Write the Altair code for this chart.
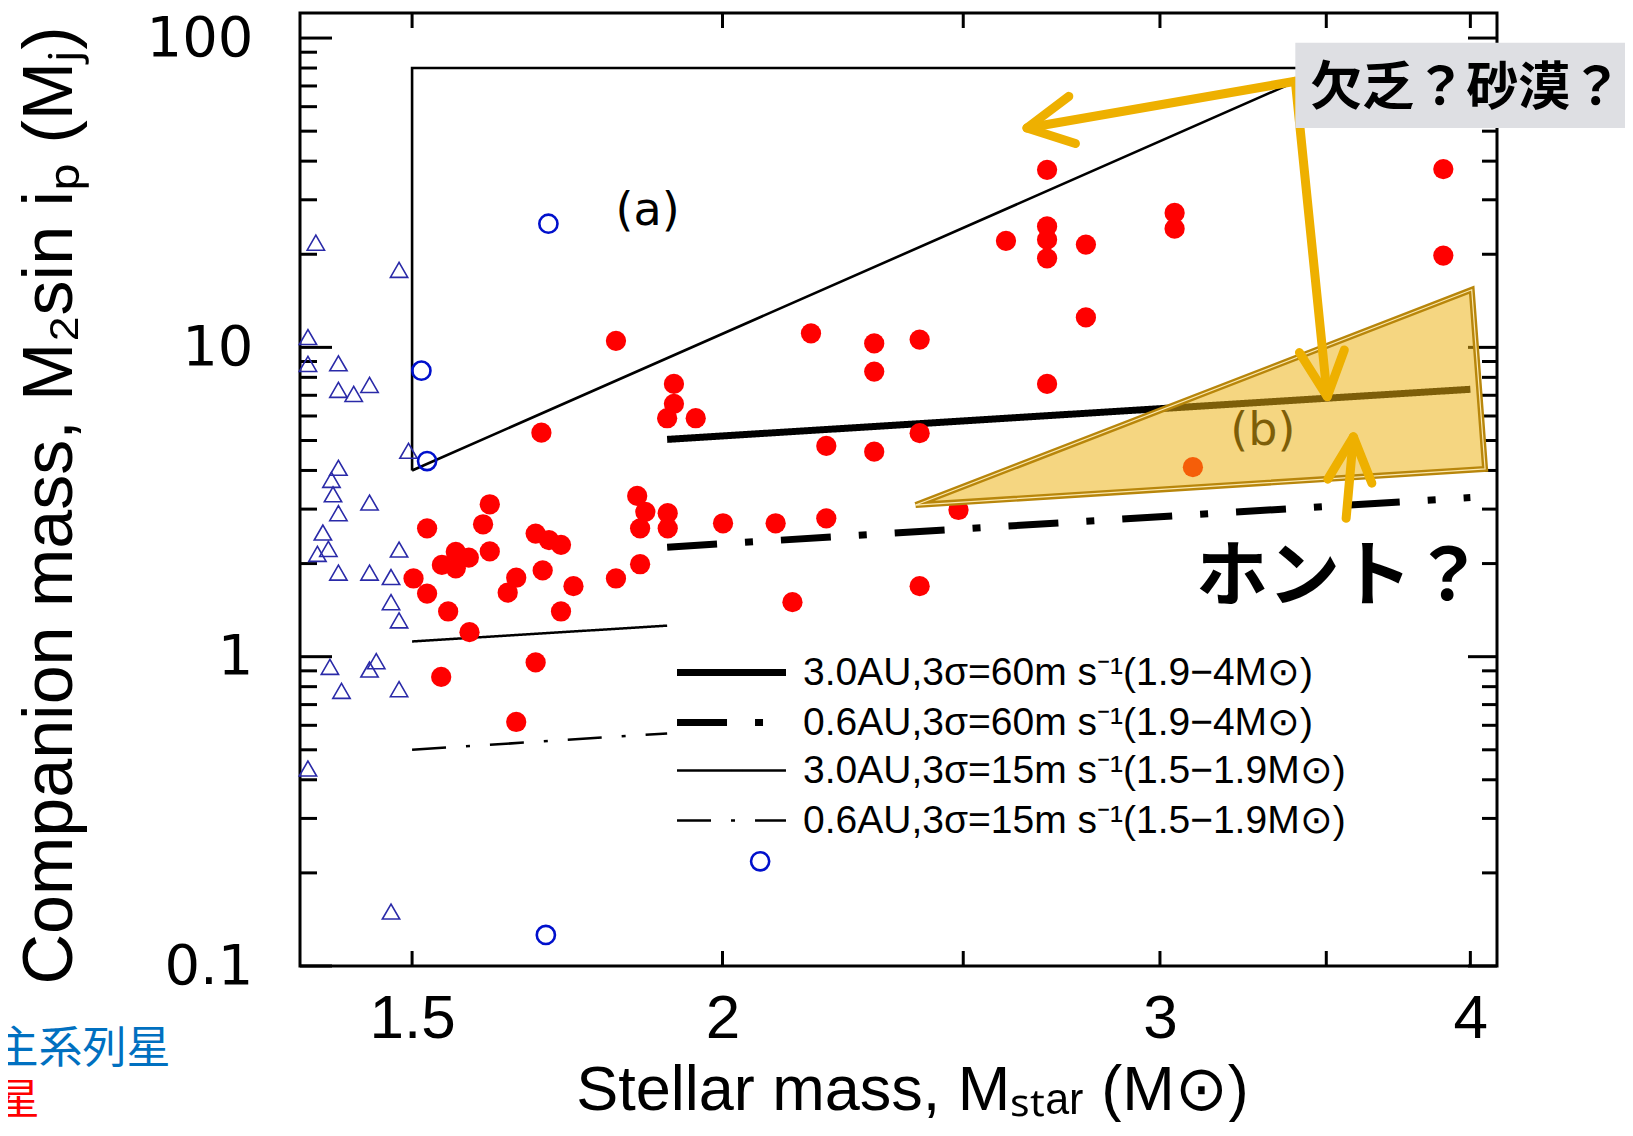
import altair as alt
import pandas as pd

# ---------------- data ----------------
# red filled circles (giants)
giant_mass = [1.691, 1.912, 1.912, 1.900, 1.951, 1.812,
              1.521, 1.612, 1.602, 1.612, 1.562, 1.581, 1.542, 1.562, 1.502, 1.521,
              1.551, 1.582, 1.541, 1.682, 1.652, 1.682, 1.703, 1.722, 1.693, 1.652,
              1.639, 1.742, 1.722, 1.812, 1.853, 1.848, 1.862, 1.853, 1.901, 1.901,
              2.001, 2.101,
              2.702, 2.601, 2.702, 2.702, 2.702, 2.801, 2.801, 2.702, 2.171, 2.302,
              2.302, 2.401, 2.202, 2.302, 2.401, 2.202, 2.489, 2.134, 2.401, 3.901,
              3.901, 3.041, 3.041, 3.093]
giant_msini = [5.30, 7.62, 6.57, 5.90, 5.90, 10.5,
               2.60, 3.11, 2.68, 2.19, 2.18, 2.09, 1.98, 1.93, 1.79, 1.60,
               1.40, 1.20, 0.86, 0.958, 0.615, 2.50, 2.38, 2.30, 1.90, 1.80,
               1.61, 1.69, 1.40, 1.79, 1.99, 3.31, 2.94, 2.60, 2.91, 2.60,
               2.70, 2.70,
               37.5, 22.1, 24.6, 22.3, 19.4, 21.5, 12.5, 7.62, 11.1, 10.3,
               8.35, 10.6, 4.80, 4.60, 5.28, 2.80, 2.98, 1.50, 1.69, 37.7,
               19.8, 27.2, 24.2, 4.10]

# blue open circles
ring_mass = [1.702, 1.513, 1.521, 1.698, 2.071]
ring_msini = [25.1, 8.41, 4.29, 0.126, 0.218]

# blue open triangles
tri_mass = [1.372, 1.482, 1.362, 1.362, 1.401, 1.401, 1.421, 1.442, 1.495, 1.401,
            1.392, 1.394, 1.401, 1.442, 1.381, 1.388, 1.374, 1.482, 1.401, 1.442,
            1.471, 1.471, 1.482, 1.390, 1.442, 1.451, 1.405, 1.482, 1.362, 1.471]
tri_msini = [21.8, 17.8, 10.8, 8.84, 8.88, 7.29, 7.07, 7.56, 4.63, 4.08,
             3.73, 3.35, 2.91, 3.15, 2.52, 2.23, 2.15, 2.22, 1.87, 1.87,
             1.81, 1.50, 1.31, 0.927, 0.909, 0.967, 0.775, 0.785, 0.435, 0.150]

# detection-limit lines
line_names = ["3.0AU,3σ=60m s⁻¹(1.9−4M⊙)",
              "0.6AU,3σ=60m s⁻¹(1.9−4M⊙)",
              "3.0AU,3σ=15m s⁻¹(1.5−1.9M⊙)",
              "0.6AU,3σ=15m s⁻¹(1.5−1.9M⊙)"]
line_mass = [[1.9, 4.0], [1.9, 4.0], [1.5, 1.9], [1.5, 1.9]]
line_msini = [[5.04, 7.32], [2.26, 3.27], [1.12, 1.26], [0.50, 0.565]]

# region (a) outline
region_a_mass = [1.5, 1.5, 3.5, 1.5]
region_a_msini = [4.0, 80.0, 80.0, 4.0]

# region (b) highlighted polygon
region_b_mass = [2.392, 4.005, 4.055]
region_b_top = [3.092, 15.35, 4.045]
region_b_bottom = [3.092, 4.02, 4.045]
region_b_outline_mass = [2.392, 4.005, 4.055, 2.392]
region_b_outline_msini = [3.092, 15.35, 4.045, 3.092]

# annotation arrows (polylines)
arrow_ids = ["s1", "s1", "h1", "h1", "h1", "s2", "s2", "h2", "h2", "h2",
             "s3", "s3", "h3", "h3", "h3"]
arrow_mass = [3.401, 2.652, 2.757, 2.652, 2.774, 3.401, 3.503, 3.414, 3.503, 3.559,
              3.565, 3.589, 3.505, 3.589, 3.651]
arrow_msini = [72.5, 51.2, 64.8, 51.2, 45.6, 72.5, 6.93, 9.62, 6.93, 9.81,
               2.80, 5.14, 3.75, 5.14, 3.64]

# grey label box
box_mass = [3.401, 4.66]
box_msini = [96.5, 51.2]

# texts
label_a = ["(a)", 1.866, 27.7]
label_b = ["(b)", 3.300, 5.37]
label_box = ["欠乏？砂漠？", 3.985, 68.6]
label_honto = ["ホント？", 3.545, 1.80]
label_ms = ["主系列星", 1.199, 0.0537]
label_giant = ["星", 1.062, 0.0365]

# axis ticks
x_ticks = [1.5, 2, 2.5, 3, 3.5, 4]
y_major = [0.1, 1, 10, 100]
y_minor = [0.2, 0.3, 0.4, 0.5, 0.6, 0.7, 0.8, 0.9,
           2, 3, 4, 5, 6, 7, 8, 9,
           20, 30, 40, 50, 60, 70, 80, 90]

# ---------------- chart ----------------
W, H = 1197, 953
SANS = "Liberation Sans"

xs = alt.Scale(type="log", domain=[1.352, 4.10], nice=False)
ys = alt.Scale(type="log", domain=[0.1, 120.5], nice=False)

x_axis = alt.Axis(values=[1.5, 2, 3, 4], format="~g", grid=False, ticks=False, tickSize=0,
                  domain=False, labelFont=SANS, labelFontSize=62, labelPadding=22,
                  labelColor="black", labelFlush=False, labelOverlap=False,
                  title="Stellar mass, Mₛₜₐᵣ (M⊙)", titleFont=SANS, titleFontSize=63,
                  titleFontWeight="normal", titleColor="black", titleX=612, titleY=143,
                  titleBaseline="alphabetic", titleAlign="center")
y_axis = alt.Axis(values=[0.1, 1, 10, 100], format="~g", grid=False, ticks=False, tickSize=0,
                  domain=False, labelFont="DejaVu Sans", labelFontSize=56, labelPadding=47,
                  labelColor="black", labelFlush=False, labelOverlap=False,
                  title="Companion mass, M₂sin iₚ (Mⱼ)", titleFont=SANS,
                  titleFontSize=70, titleFontWeight="normal", titleColor="black",
                  titleX=-229, titleY=492, titleBaseline="alphabetic", titleAngle=270,
                  titleAlign="center")


def X(field="m"):
    return alt.X(f"{field}:Q", scale=xs, axis=x_axis)


def Y(field="v"):
    return alt.Y(f"{field}:Q", scale=ys, axis=y_axis)


# ticks (drawn inward)
tick_x_df = pd.DataFrame({"m": x_ticks})
tick_ymaj_df = pd.DataFrame({"v": y_major})
tick_ymin_df = pd.DataFrame({"v": y_minor})
tk = dict(color="black", strokeWidth=3)
ticks = [
    alt.Chart(tick_x_df).mark_rule(**tk).encode(x=X(), y=alt.value(0), y2=alt.value(15)),
    alt.Chart(tick_x_df).mark_rule(**tk).encode(x=X(), y=alt.value(H), y2=alt.value(H - 15)),
    alt.Chart(tick_ymaj_df).mark_rule(**tk).encode(y=Y(), x=alt.value(0), x2=alt.value(32)),
    alt.Chart(tick_ymin_df).mark_rule(**tk).encode(y=Y(), x=alt.value(0), x2=alt.value(17)),
    alt.Chart(tick_ymaj_df).mark_rule(**tk).encode(y=Y(), x=alt.value(W), x2=alt.value(W - 29)),
    alt.Chart(tick_ymin_df).mark_rule(**tk).encode(y=Y(), x=alt.value(W), x2=alt.value(W - 15)),
]

# region (a)
reg_a_df = pd.DataFrame({"m": region_a_mass, "v": region_a_msini, "o": range(4)})
reg_a = alt.Chart(reg_a_df).mark_line(color="black", strokeWidth=2.6).encode(
    x=X(), y=Y(), order="o:Q")

# detection lines with legends
rows = []
for name, ms, vs in zip(line_names, line_mass, line_msini):
    for k, (m, v) in enumerate(zip(ms, vs)):
        rows.append({"series": name, "m": m, "v": v, "o": k})
lines_df = pd.DataFrame(rows)


def make_legend(y0, sw):
    return alt.Legend(title=None, orient="none", legendX=412, legendY=y0,
                      symbolType="M-4,0L4,0", symbolSize=742, symbolStrokeColor="black",
                      symbolStrokeWidth=sw,
                      labelFont=SANS, labelFontSize=39, labelColor="black",
                      labelOffset=52, rowPadding=10, padding=0, labelLimit=1200)


thick = alt.Chart(lines_df[lines_df.series.isin(line_names[:2])]).mark_line(
    color="black", strokeWidth=7, strokeCap="butt").encode(
    x=X(), y=Y(), order="o:Q",
    strokeDash=alt.StrokeDash(
        "series:N",
        scale=alt.Scale(domain=line_names[:2], range=[[1, 0], [50, 28, 8, 28]]),
        legend=make_legend(640, 7)))
thin = alt.Chart(lines_df[lines_df.series.isin(line_names[2:])]).mark_line(
    color="black", strokeWidth=2.5, strokeCap="butt").encode(
    x=X(), y=Y(), order="o:Q",
    strokeDash=alt.StrokeDash(
        "series:N",
        scale=alt.Scale(domain=line_names[2:], range=[[1, 0], [34, 20, 4, 20]]),
        legend=make_legend(738, 2.5)))

# points
tri = alt.Chart(pd.DataFrame({"m": tri_mass, "v": tri_msini})).mark_point(
    shape="triangle-up", size=300, filled=False, color="#2a2aa8", strokeWidth=1.6,
    opacity=1).encode(x=X(), y=Y())
rings = alt.Chart(pd.DataFrame({"m": ring_mass, "v": ring_msini})).mark_point(
    shape="circle", size=330, filled=False, color="#0010cc", strokeWidth=2.6,
    opacity=1).encode(x=X(), y=Y())
giants = alt.Chart(pd.DataFrame({"m": giant_mass, "v": giant_msini})).mark_circle(
    size=410, color="#ff0000", opacity=1).encode(x=X(), y=Y())


def text_layer(lbl, **kw):
    df = pd.DataFrame({"t": [lbl[0]], "m": [lbl[1]], "v": [lbl[2]]})
    return alt.Chart(df).mark_text(**kw).encode(x=X(), y=Y(), text="t:N")


txt_a = text_layer(label_a, font="DejaVu Sans", fontSize=46, color="black",
                   align="center", baseline="middle")
txt_b = text_layer(label_b, font="DejaVu Sans", fontSize=46, color="black",
                   align="center", baseline="middle")

# region (b)
reg_b_df = pd.DataFrame({"m": region_b_mass, "v": region_b_top, "v2": region_b_bottom})
reg_b_fill = alt.Chart(reg_b_df).mark_area(color="#ecb211", opacity=0.53).encode(
    x=X(), y=Y(), y2="v2:Q")
reg_b_out_df = pd.DataFrame({"m": region_b_outline_mass, "v": region_b_outline_msini,
                             "o": range(4)})
reg_b_out = alt.Chart(reg_b_out_df).mark_line(
    color="#b8860b", strokeWidth=6, strokeJoin="miter").encode(x=X(), y=Y(), order="o:Q")
reg_b_in = alt.Chart(reg_b_out_df).mark_line(
    color="#fbe8b0", strokeWidth=1.2).encode(x=X(), y=Y(), order="o:Q")

# arrows
arr_df = pd.DataFrame({"id": arrow_ids, "m": arrow_mass, "v": arrow_msini,
                       "o": range(len(arrow_ids))})
arrows = alt.Chart(arr_df).mark_line(
    color="#eeb000", strokeWidth=9, strokeCap="round", strokeJoin="round").encode(
    x=X(), y=Y(), detail="id:N", order="o:Q")

# grey box + texts
box_df = pd.DataFrame({"m": [box_mass[0]], "m2": [box_mass[1]],
                       "v": [box_msini[0]], "v2": [box_msini[1]]})
box = alt.Chart(box_df).mark_rect(color="#dedfe3").encode(
    x=X(), x2="m2:Q", y=Y(), y2="v2:Q")
txt_box = text_layer(label_box, font="Noto Sans CJK JP", fontWeight="bold", fontSize=52,
                     color="black", align="center", baseline="middle")
txt_honto = text_layer(label_honto, font="Noto Sans CJK JP", fontWeight="bold",
                       fontSize=72, color="black", align="center", baseline="middle")
txt_ms = text_layer(label_ms, font="Noto Sans CJK JP", fontSize=44, color="#0070c0",
                    align="right", baseline="middle")
txt_giant = text_layer(label_giant, font="Noto Sans CJK JP", fontSize=42, color="#ff0000",
                       align="right", baseline="middle")

chart = alt.layer(
    *ticks, reg_a, thick, thin, tri, rings, giants, txt_a, txt_b,
    reg_b_fill, reg_b_out, reg_b_in, arrows, box, txt_box, txt_honto, txt_ms, txt_giant
).resolve_scale(strokeDash="independent").resolve_legend(strokeDash="independent").properties(
    width=W, height=H,
    autosize=alt.AutoSizeParams(type="none"),
    padding={"left": 292, "top": 5, "right": 128, "bottom": 156},
).configure_view(stroke="black", strokeWidth=3)

chart.save("out.html", embed_options={"renderer": "svg", "actions": False})
